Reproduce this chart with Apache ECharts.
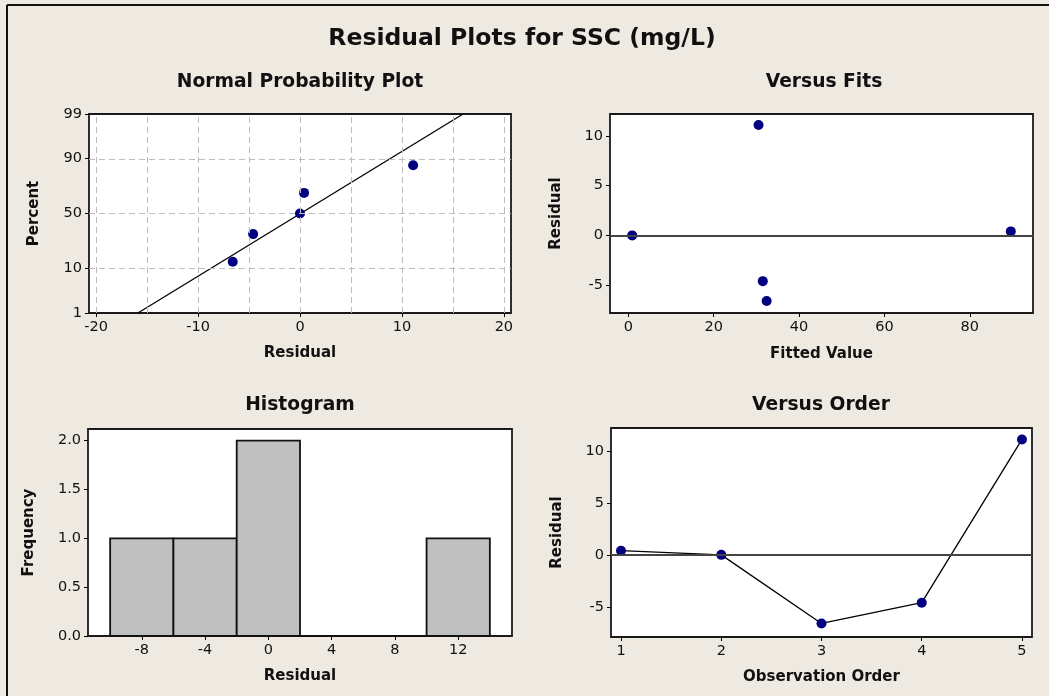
<!DOCTYPE html>
<html><head><meta charset="utf-8">
<script src="https://cdn.jsdelivr.net/npm/echarts@6/dist/echarts.min.js"></script>
<style>html,body{margin:0;padding:0;background:#EEEAE1}#c{width:1049px;height:696px}</style>
</head><body><div id="c"></div>
<script>
// ---- data ----
const obsOrder = [1, 2, 3, 4, 5];
const residuals = [0.4, 0.0, -6.6, -4.6, 11.1];
const fittedValues = [89.6, 0.9, 32.4, 31.5, 30.5];
const sortedResiduals = [-6.6, -4.6, 0.0, 0.4, 11.1];
const probPercents = [13, 31.5, 50, 68.5, 87];
const fitLineResidual = [-15.9, 16.0];
const fitLinePercent = [1, 99];
const percentTicks = [1, 10, 50, 90, 99];
const percentGrid = [10, 50, 90];
const probXTicks = [-20, -10, 0, 10, 20];
const probXGrid = [-20, -15, -10, -5, 0, 5, 10, 15, 20];
const histCenters = [-8, -4, 0, 4, 8, 12];
const histFreq = [1, 1, 2, 0, 0, 1];
const histWidth = 4;
const histYTicks = [0, 0.5, 1, 1.5, 2];
const fitsXTicks = [0, 20, 40, 60, 80];
const residTicks = [-5, 0, 5, 10];
const orderXTicks = [1, 2, 3, 4, 5];

// inverse normal CDF (probability-scale transform)
function probit(p) {
  const a=[-3.969683028665376e+01,2.209460984245205e+02,-2.759285104469687e+02,1.383577518672690e+02,-3.066479806614716e+01,2.506628277459239e+00];
  const b=[-5.447609879822406e+01,1.615858368580409e+02,-1.556989798598866e+02,6.680131188771972e+01,-1.328068155288572e+01];
  const c=[-7.784894002430293e-03,-3.223964580411365e-01,-2.400758277161838e+00,-2.549732539343734e+00,4.374664141464968e+00,2.938163982698783e+00];
  const d=[7.784695709041462e-03,3.224671290700398e-01,2.445134137142996e+00,3.754408661907416e+00];
  const pl = 0.02425, ph = 1 - pl; let q, r;
  if (p < pl) { q = Math.sqrt(-2*Math.log(p)); return (((((c[0]*q+c[1])*q+c[2])*q+c[3])*q+c[4])*q+c[5])/((((d[0]*q+d[1])*q+d[2])*q+d[3])*q+1); }
  if (p <= ph) { q = p - 0.5; r = q*q; return (((((a[0]*r+a[1])*r+a[2])*r+a[3])*r+a[4])*r+a[5])*q/(((((b[0]*r+b[1])*r+b[2])*r+b[3])*r+b[4])*r+1); }
  q = Math.sqrt(-2*Math.log(1-p)); return -(((((c[0]*q+c[1])*q+c[2])*q+c[3])*q+c[4])*q+c[5])/((((d[0]*q+d[1])*q+d[2])*q+d[3])*q+1);
}
const z = pct => probit(pct / 100);

const FONT = 'DejaVu Sans';
const TXT = '#111';
const NAVY = '#000080';

function axis(o) {
  return Object.assign({
    type: 'value',
    axisLine: { show: false, onZero: false },
    axisTick: { show: true, length: 4, lineStyle: { color: '#000', width: 1 } },
    axisLabel: { color: TXT, fontFamily: FONT, fontSize: 14.5, margin: 7 },
    splitLine: { show: false },
    nameLocation: 'middle',
    nameTextStyle: { fontFamily: FONT, fontWeight: 'bold', fontSize: 15, color: TXT }
  }, o);
}
function withTicks(ax, vals, fmt) {
  ax.axisTick.customValues = vals;
  ax.axisLabel = Object.assign({}, ax.axisLabel, { customValues: vals });
  if (fmt) ax.axisLabel.formatter = fmt;
  return ax;
}

const gridStyle = { show: true, backgroundColor: '#fff', borderColor: '#1a1a1a', borderWidth: 1.8 };
const dashed = { type: [6, 4], color: '#BDBDBD', width: 1 };

const xAxes = [
  withTicks(axis({ gridIndex: 0, min: -20.7, max: 20.7, name: 'Residual', nameGap: 33 }), probXTicks),
  withTicks(axis({ gridIndex: 1, min: -4.3, max: 94.8, name: 'Fitted Value', nameGap: 34 }), fitsXTicks),
  withTicks(axis({ gridIndex: 2, min: -11.4, max: 15.4, name: 'Residual', nameGap: 33 }), histCenters),
  withTicks(axis({ gridIndex: 3, min: 0.9, max: 5.1, name: 'Observation Order', nameGap: 33 }), orderXTicks)
];
const yAxes = [
  withTicks(axis({ gridIndex: 0, min: z(1), max: z(99), name: 'Percent', nameGap: 47 }),
    percentTicks.map(z),
    v => { let best = percentTicks[0]; percentTicks.forEach(p => { if (Math.abs(z(p) - v) < Math.abs(z(best) - v)) best = p; }); return String(best); }),
  withTicks(axis({ gridIndex: 1, min: -7.8, max: 12.2, name: 'Residual', nameGap: 46 }), residTicks),
  withTicks(axis({ gridIndex: 2, min: 0, max: 2.12, name: 'Frequency', nameGap: 51 }), histYTicks, v => v.toFixed(1)),
  withTicks(axis({ gridIndex: 3, min: -7.9, max: 12.2, name: 'Residual', nameGap: 46 }), residTicks)
];

const option = {
  backgroundColor: '#EEEAE1',
  animation: false,
  grid: [
    Object.assign({ left: 89, top: 114, width: 422, height: 199 }, gridStyle),
    Object.assign({ left: 610, top: 114, width: 423, height: 199 }, gridStyle),
    Object.assign({ left: 88, top: 429, width: 424, height: 207 }, gridStyle),
    Object.assign({ left: 611, top: 428, width: 421, height: 209 }, gridStyle)
  ],
  xAxis: xAxes,
  yAxis: yAxes,
  graphic: [
    { type: 'line', shape: { x1: 7, y1: 5, x2: 1049, y2: 5 }, style: { stroke: '#111', lineWidth: 2 } },
    { type: 'line', shape: { x1: 7, y1: 5, x2: 7, y2: 696 }, style: { stroke: '#111', lineWidth: 2 } },
    { type: 'text', x: 522, y: 39, style: { text: 'Residual Plots for SSC (mg/L)', fontFamily: FONT, fontWeight: 'bold', fontSize: 23.5, fill: TXT, textAlign: 'center', textVerticalAlign: 'middle' } },
    { type: 'text', x: 300, y: 82, style: { text: 'Normal Probability Plot', fontFamily: FONT, fontWeight: 'bold', fontSize: 18.7, fill: TXT, textAlign: 'center', textVerticalAlign: 'middle' } },
    { type: 'text', x: 824, y: 82, style: { text: 'Versus Fits', fontFamily: FONT, fontWeight: 'bold', fontSize: 18.7, fill: TXT, textAlign: 'center', textVerticalAlign: 'middle' } },
    { type: 'text', x: 300, y: 405, style: { text: 'Histogram', fontFamily: FONT, fontWeight: 'bold', fontSize: 18.7, fill: TXT, textAlign: 'center', textVerticalAlign: 'middle' } },
    { type: 'text', x: 821, y: 405, style: { text: 'Versus Order', fontFamily: FONT, fontWeight: 'bold', fontSize: 18.7, fill: TXT, textAlign: 'center', textVerticalAlign: 'middle' } }
  ],
  series: [
    { // normal probability fit line + dashed grid
      type: 'line', xAxisIndex: 0, yAxisIndex: 0, z: 2,
      data: fitLineResidual.map((r, i) => [r, z(fitLinePercent[i])]),
      symbol: 'none', lineStyle: { color: '#000', width: 1.3 },
      markLine: {
        silent: true, symbol: 'none', label: { show: false }, lineStyle: dashed,
        data: probXGrid.map(v => ({ xAxis: v })).concat(percentGrid.map(p => ({ yAxis: z(p) })))
      }
    },
    {
      type: 'scatter', xAxisIndex: 0, yAxisIndex: 0, z: 4,
      data: sortedResiduals.map((r, i) => [r, z(probPercents[i])]),
      symbol: 'circle', symbolSize: 10, itemStyle: { color: NAVY, opacity: 1 }
    },
    { // versus fits zero line
      type: 'line', xAxisIndex: 1, yAxisIndex: 1, z: 2, data: [], symbol: 'none',
      markLine: { silent: true, symbol: 'none', label: { show: false }, lineStyle: { type: 'solid', color: '#444', width: 1.8 }, data: [{ yAxis: 0 }] }
    },
    {
      type: 'scatter', xAxisIndex: 1, yAxisIndex: 1, z: 4,
      data: fittedValues.map((f, i) => [f, residuals[i]]),
      symbol: 'circle', symbolSize: 10, itemStyle: { color: NAVY, opacity: 1 }
    },
    { // histogram
      type: 'custom', xAxisIndex: 2, yAxisIndex: 2, z: 3,
      data: histCenters.map((c, i) => [c, histFreq[i]]),
      encode: { x: 0, y: 1 },
      renderItem: (params, api) => {
        const c = api.value(0), f = api.value(1);
        const p0 = api.coord([c - histWidth / 2, f]);
        const p1 = api.coord([c + histWidth / 2, 0]);
        return { type: 'rect', shape: { x: p0[0], y: p0[1], width: p1[0] - p0[0], height: p1[1] - p0[1] },
          style: { fill: '#C0C0C0', stroke: '#111', lineWidth: 1.8 } };
      }
    },
    { // versus order zero line
      type: 'line', xAxisIndex: 3, yAxisIndex: 3, z: 2, data: [], symbol: 'none',
      markLine: { silent: true, symbol: 'none', label: { show: false }, lineStyle: { type: 'solid', color: '#444', width: 1.8 }, data: [{ yAxis: 0 }] }
    },
    {
      type: 'line', xAxisIndex: 3, yAxisIndex: 3, z: 4,
      data: obsOrder.map((o, i) => [o, residuals[i]]),
      symbol: 'circle', symbolSize: 10, showAllSymbol: true,
      itemStyle: { color: NAVY, opacity: 1 }, lineStyle: { color: '#000', width: 1.3 }
    }
  ]
};
echarts.init(document.getElementById('c'), null, { renderer: 'canvas' }).setOption(option);
</script>
</body></html>
